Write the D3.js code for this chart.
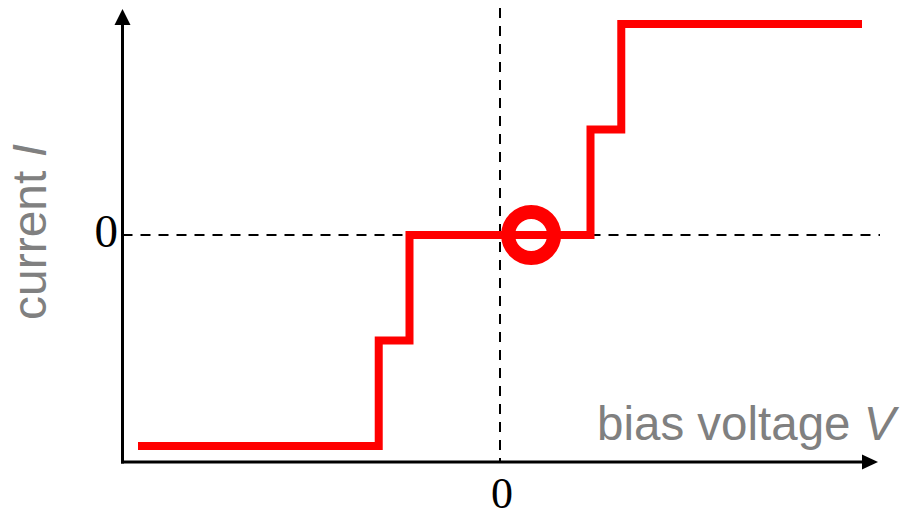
<!DOCTYPE html>
<html><head><meta charset="utf-8">
<script src="https://cdn.jsdelivr.net/npm/d3@7"></script>
<style>html,body{margin:0;padding:0;background:#fff;}svg{display:block;}</style>
</head><body>
<script>
// Step I–V data (arbitrary units)
const stepVoltages = [-1, -0.335, -0.25, 0.25, 0.335, 1];
const stepCurrents = [-2, -1, 0, 1, 2, 2];
const markerPoint = [0.086, 0];
const xTickLabels = ["0"];
const yTickLabels = ["0"];
const xLabel = "bias voltage ";
const xLabelVar = "V";
const yLabel = "current ";
const yLabelVar = "I";

const W = 906, H = 518;
const svg = d3.select("body").append("svg").attr("width", W).attr("height", H);

const x = d3.scaleLinear().domain([-1, 1]).range([138, 862]);
const y = d3.scaleLinear().domain([-2, 2]).range([446, 24]);

const axisX0 = 122.5, axisY0 = 462;

// dashed zero lines
svg.append("line").attr("x1", x(0)).attr("x2", x(0)).attr("y1", 8).attr("y2", axisY0)
  .attr("stroke", "#000").attr("stroke-width", 2).attr("stroke-dasharray", "10,8");
svg.append("line").attr("x1", axisX0).attr("x2", 880).attr("y1", y(0)).attr("y2", y(0))
  .attr("stroke", "#000").attr("stroke-width", 2).attr("stroke-dasharray", "10,8");

// axes
svg.append("line").attr("x1", axisX0).attr("x2", axisX0).attr("y1", 22).attr("y2", axisY0 + 1.5)
  .attr("stroke", "#000").attr("stroke-width", 3);
svg.append("line").attr("x1", axisX0 - 1.5).attr("x2", 866).attr("y1", axisY0).attr("y2", axisY0)
  .attr("stroke", "#000").attr("stroke-width", 3);
svg.append("path").attr("d", `M${axisX0},9 L${axisX0 + 8},25 L${axisX0 - 8},25 Z`).attr("fill", "#000");
svg.append("path").attr("d", `M878,${axisY0} L862,${axisY0 - 7.5} L862,${axisY0 + 7.5} Z`).attr("fill", "#000");

// tick labels
svg.append("text").attr("x", 118).attr("y", y(0) + 12).attr("text-anchor", "end")
  .attr("font-family", "Liberation Serif, Times New Roman, serif").attr("font-size", 47)
  .text(yTickLabels[0]);
svg.append("text").attr("x", x(0) + 2).attr("y", 508).attr("text-anchor", "middle")
  .attr("font-family", "Liberation Serif, Times New Roman, serif").attr("font-size", 44)
  .text(xTickLabels[0]);

// axis titles
const xt = svg.append("text").attr("x", 597).attr("y", 440)
  .attr("font-family", "Liberation Sans, Arial, sans-serif").attr("font-size", 47.5).attr("fill", "#808080");
xt.append("tspan").text(xLabel);
xt.append("tspan").attr("font-style", "italic").text(xLabelVar);

const yt = svg.append("text").attr("transform", "translate(46,232) rotate(-90)").attr("text-anchor", "middle")
  .attr("font-family", "Liberation Sans, Arial, sans-serif").attr("font-size", 48).attr("fill", "#808080");
yt.append("tspan").text(yLabel);
yt.append("tspan").attr("font-style", "italic").text(yLabelVar);

// step curve
const pts = stepVoltages.map((v, i) => [v, stepCurrents[i]]);
const line = d3.line().x(d => x(d[0])).y(d => y(d[1])).curve(d3.curveStepAfter);
svg.append("path").attr("d", line(pts)).attr("fill", "none").attr("stroke", "#ff0000")
  .attr("stroke-width", 8).attr("stroke-linejoin", "miter");

// marker
svg.append("circle").attr("cx", x(markerPoint[0])).attr("cy", y(markerPoint[1])).attr("r", 23)
  .attr("fill", "none").attr("stroke", "#ff0000").attr("stroke-width", 14);
</script>
</body></html>
